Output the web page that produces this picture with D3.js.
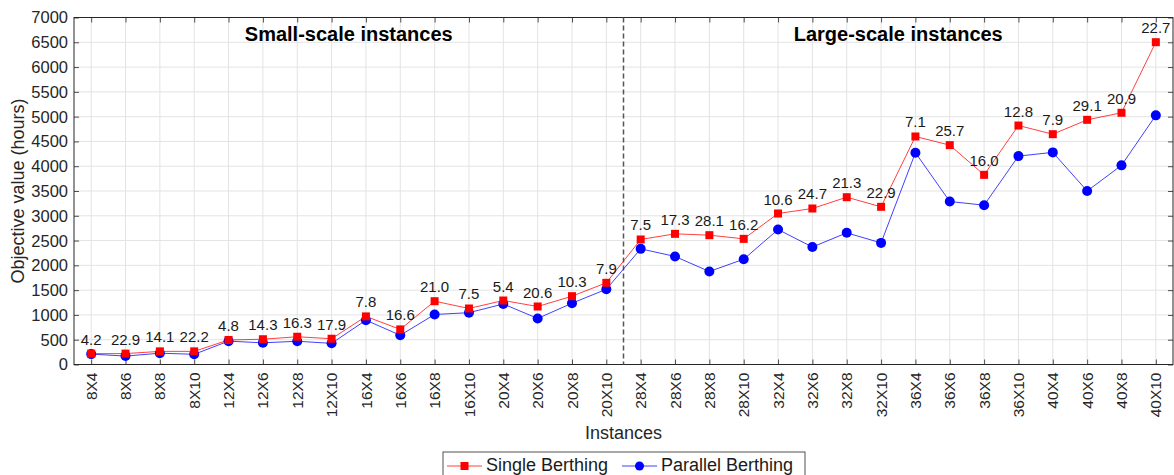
<!DOCTYPE html>
<html>
<head>
<meta charset="utf-8">
<script src="https://cdn.jsdelivr.net/npm/d3@7"></script>
<style>
  body { margin: 0; background: #fff; }
  svg { display: block; font-family: "Liberation Sans", Arial, sans-serif; }
</style>
</head>
<body>
<svg width="1174" height="475"></svg>
<script>
// Instances on the x axis
var instances = ["8X4", "8X6", "8X8", "8X10", "12X4", "12X6", "12X8", "12X10",
  "16X4", "16X6", "16X8", "16X10", "20X4", "20X6", "20X8", "20X10",
  "28X4", "28X6", "28X8", "28X10", "32X4", "32X6", "32X8", "32X10",
  "36X4", "36X6", "36X8", "36X10", "40X4", "40X6", "40X8", "40X10"];

// Objective values (hours)
var singleBerthing = [219, 220, 265, 265, 495, 510, 560, 520,
  970, 708, 1277, 1130, 1291, 1170, 1378, 1648,
  2522, 2636, 2609, 2535, 3046, 3147, 3375, 3181,
  4600, 4425, 3826, 4821, 4646, 4936, 5078, 6502];
var parallelBerthing = [210, 170, 228, 206, 471, 437, 469, 427,
  894, 590, 1009, 1045, 1221, 929, 1236, 1518,
  2333, 2180, 1876, 2124, 2723, 2370, 2656, 2453,
  4273, 3288, 3214, 4204, 4279, 3500, 4017, 5026];

// gap labels (%)
var gapLabels = ["4.2", "22.9", "14.1", "22.2", "4.8", "14.3", "16.3", "17.9",
  "7.8", "16.6", "21.0", "7.5", "5.4", "20.6", "10.3", "7.9",
  "7.5", "17.3", "28.1", "16.2", "10.6", "24.7", "21.3", "22.9",
  "7.1", "25.7", "16.0", "12.8", "7.9", "29.1", "20.9", "22.7"];

var yTicks = d3.range(0, 7001, 500);

var svg = d3.select("svg");
var mLeft = 74, mRight = 1173, mTop = 17.5, mBottom = 364.5;

var x = d3.scaleLinear().domain([0.5, instances.length + 0.5]).range([mLeft, mRight]);
var y = d3.scaleLinear().domain([0, 7000]).range([mBottom, mTop]);

var axisColor = "#262626";

// grid
var grid = svg.append("g");
grid.selectAll(".vg")
  .data(instances)
  .enter()
  .append("line")
  .attr("x1", function (d, i) { return x(i + 1); })
  .attr("x2", function (d, i) { return x(i + 1); })
  .attr("y1", mTop).attr("y2", mBottom)
  .style("stroke", "#e3e3e3").style("stroke-width", 1);
grid.selectAll(".hg")
  .data(yTicks)
  .enter()
  .append("line")
  .attr("x1", mLeft).attr("x2", mRight)
  .attr("y1", function (d) { return y(d); })
  .attr("y2", function (d) { return y(d); })
  .style("stroke", "#e3e3e3").style("stroke-width", 1);

// axes (ticks pointing inward, box on)
svg.append("g")
  .attr("transform", "translate(0," + mBottom + ")")
  .call(d3.axisBottom(x).tickValues(d3.range(1, instances.length + 1)).tickSize(-5).tickFormat(""));
svg.append("g")
  .attr("transform", "translate(0," + mTop + ")")
  .call(d3.axisTop(x).tickValues(d3.range(1, instances.length + 1)).tickSize(-5).tickFormat(""));
svg.append("g")
  .attr("transform", "translate(" + mLeft + ",0)")
  .call(d3.axisLeft(y).tickValues(yTicks).tickSize(-5).tickFormat(""));
svg.append("g")
  .attr("transform", "translate(" + mRight + ",0)")
  .call(d3.axisRight(y).tickValues(yTicks).tickSize(-5).tickFormat(""));
svg.selectAll(".domain").remove();
svg.selectAll(".tick line").style("stroke", axisColor).style("stroke-width", 0.8);

svg.append("rect")
  .attr("x", mLeft).attr("y", mTop)
  .attr("width", mRight - mLeft).attr("height", mBottom - mTop)
  .style("fill", "none").style("stroke", axisColor).style("stroke-width", 1);

// y tick labels
svg.append("g")
  .selectAll("text")
  .data(yTicks)
  .enter()
  .append("text")
  .attr("x", mLeft - 6)
  .attr("y", function (d) { return y(d); })
  .attr("dy", "0.36em")
  .attr("text-anchor", "end")
  .style("font-size", "16.5px")
  .style("fill", axisColor)
  .text(function (d) { return d; });

// x tick labels
svg.append("g")
  .selectAll("text")
  .data(instances)
  .enter()
  .append("text")
  .attr("transform", function (d, i) { return "translate(" + x(i + 1) + "," + (mBottom + 8) + ") rotate(-90)"; })
  .attr("dy", "0.36em")
  .attr("text-anchor", "end")
  .style("font-size", "15.5px")
  .style("fill", axisColor)
  .text(function (d) { return d; });

// axis titles
svg.append("text")
  .attr("transform", "translate(24," + ((mTop + mBottom) / 2) + ") rotate(-90)")
  .attr("text-anchor", "middle")
  .style("font-size", "18px")
  .style("fill", axisColor)
  .text("Objective value (hours)");
svg.append("text")
  .attr("x", (mLeft + mRight) / 2)
  .attr("y", 439)
  .attr("text-anchor", "middle")
  .style("font-size", "18px")
  .style("fill", axisColor)
  .text("Instances");

// divider between small and large scale
svg.append("line")
  .attr("x1", x(16.5)).attr("x2", x(16.5))
  .attr("y1", mTop).attr("y2", mBottom)
  .style("stroke", "#555").style("stroke-width", 1.5)
  .style("stroke-dasharray", "5,3");

svg.append("text")
  .attr("x", x(8.5)).attr("y", 41)
  .attr("text-anchor", "middle")
  .style("font-size", "20px").style("font-weight", "bold")
  .text("Small-scale instances");
svg.append("text")
  .attr("x", x(24.5)).attr("y", 41)
  .attr("text-anchor", "middle")
  .style("font-size", "20px").style("font-weight", "bold")
  .text("Large-scale instances");

// lines
var line = d3.line()
  .x(function (d, i) { return x(i + 1); })
  .y(function (d) { return y(d); });

svg.append("path")
  .datum(parallelBerthing)
  .attr("d", line)
  .style("fill", "none").style("stroke", "#0000ff").style("stroke-width", 1)
  .style("opacity", 0.75);
svg.append("path")
  .datum(singleBerthing)
  .attr("d", line)
  .style("fill", "none").style("stroke", "#ff0000").style("stroke-width", 1)
  .style("opacity", 0.75);

// markers
svg.append("g")
  .selectAll("circle")
  .data(parallelBerthing)
  .enter()
  .append("circle")
  .attr("cx", function (d, i) { return x(i + 1); })
  .attr("cy", function (d) { return y(d); })
  .attr("r", 5)
  .style("fill", "#0000ff");
svg.append("g")
  .selectAll("rect")
  .data(singleBerthing)
  .enter()
  .append("rect")
  .attr("x", function (d, i) { return x(i + 1) - 4; })
  .attr("y", function (d) { return y(d) - 4; })
  .attr("width", 8).attr("height", 8)
  .style("fill", "#ff0000");

// gap labels above the single berthing markers
svg.append("g")
  .selectAll("text")
  .data(gapLabels)
  .enter()
  .append("text")
  .attr("x", function (d, i) { return x(i + 1); })
  .attr("y", function (d, i) { return y(singleBerthing[i]) - 9; })
  .attr("text-anchor", "middle")
  .style("font-size", "15px")
  .style("fill", "#1a1a1a")
  .text(function (d) { return d; });

// legend
var legend = svg.append("g");
legend.append("rect")
  .attr("x", 443).attr("y", 452)
  .attr("width", 362).attr("height", 32)
  .style("fill", "#fff").style("stroke", axisColor).style("stroke-width", 0.8);

var legendItems = [
  { name: "Single Berthing", color: "#ff0000", shape: "square", x0: 447 },
  { name: "Parallel Berthing", color: "#0000ff", shape: "circle", x0: 622 }
];
legendItems.forEach(function (it) {
  var ly = 466;
  legend.append("line")
    .attr("x1", it.x0).attr("x2", it.x0 + 35)
    .attr("y1", ly).attr("y2", ly)
    .style("stroke", it.color).style("opacity", 0.75);
  if (it.shape == "square") {
    legend.append("rect")
      .attr("x", it.x0 + 13.5).attr("y", ly - 4)
      .attr("width", 8).attr("height", 8)
      .style("fill", it.color);
  } else {
    legend.append("circle")
      .attr("cx", it.x0 + 17.5).attr("cy", ly).attr("r", 4.5)
      .style("fill", it.color);
  }
  legend.append("text")
    .attr("x", it.x0 + 39).attr("y", 471)
    .style("font-size", "18px")
    .style("fill", "#1a1a1a")
    .text(it.name);
});
</script>
</body>
</html>
